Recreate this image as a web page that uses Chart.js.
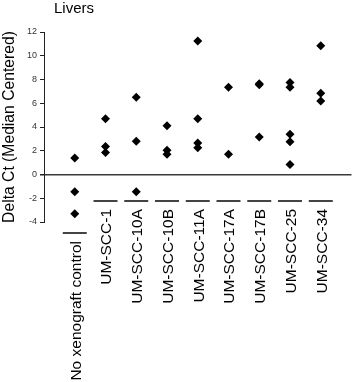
<!DOCTYPE html>
<html>
<head>
<meta charset="utf-8">
<script src="https://cdn.jsdelivr.net/npm/chart.js@4.4.1/dist/chart.umd.min.js"></script>
<style>
  html, body { margin: 0; padding: 0; background: #fff; }
</style>
</head>
<body>
<canvas id="chart" width="356" height="382"></canvas>
<script>
// data
const categories = ['No xenograft control', 'UM-SCC-1', 'UM-SCC-10A', 'UM-SCC-10B', 'UM-SCC-11A',
                    'UM-SCC-17A', 'UM-SCC-17B', 'UM-SCC-25', 'UM-SCC-34'];
const noXenograft = [1.4, -1.45, -3.3];
const umScc1   = [4.7, 2.35, 1.85];
const umScc10A = [6.5, 2.8, -1.45];
const umScc10B = [4.1, 2.05, 1.7];
const umScc11A = [11.25, 4.7, 2.65, 2.25];
const umScc17A = [7.35, 1.7];
const umScc17B = [7.65, 7.55, 3.15];
const umScc25  = [7.75, 7.35, 3.4, 2.75, 0.85];
const umScc34  = [10.85, 6.85, 6.2];
const yTicks = [-4, -2, 0, 2, 4, 6, 8, 10, 12];

const groups = [noXenograft, umScc1, umScc10A, umScc10B, umScc11A, umScc17A, umScc17B, umScc25, umScc34];
const points = [];
groups.forEach((vals, i) => vals.forEach(v => points.push({ x: i, y: v })));

const FONT = '"Liberation Sans", Arial, Helvetica, sans-serif';

// title top-left + the short bars and rotated names under each group
const extras = {
  id: 'extras',
  afterDraw(chart) {
    const { ctx, chartArea, scales: { x } } = chart;
    ctx.save();
    ctx.fillStyle = '#000';
    ctx.font = '15px ' + FONT;
    ctx.textAlign = 'left';
    ctx.textBaseline = 'alphabetic';
    ctx.fillText('Livers', chartArea.left + 10, 13);

    ctx.font = '15.5px ' + FONT;
    categories.forEach((name, i) => {
      const px = x.getPixelForValue(i);
      const barY = i === 0 ? chartArea.bottom + 11 : chartArea.bottom - 21;
      ctx.strokeStyle = '#444';
      ctx.lineWidth = 2;
      ctx.beginPath();
      ctx.moveTo(px - 12, barY);
      ctx.lineTo(px + 12, barY);
      ctx.stroke();

      ctx.save();
      ctx.translate(px + 1.5, barY + 8);
      ctx.rotate(-Math.PI / 2);
      ctx.textAlign = 'right';
      ctx.textBaseline = 'middle';
      ctx.fillText(name, 0, 0);
      ctx.restore();
    });
    ctx.restore();
  }
};

new Chart(document.getElementById('chart'), {
  type: 'scatter',
  data: {
    datasets: [{
      data: points,
      pointStyle: 'rectRot',
      pointRadius: 4.5,
      backgroundColor: '#000',
      borderColor: '#000',
      borderWidth: 0
    }]
  },
  options: {
    responsive: false,
    animation: false,
    clip: false,
    layout: { padding: { top: 32, bottom: 160, left: 0, right: 0 } },
    plugins: { legend: { display: false }, tooltip: { enabled: false } },
    scales: {
      x: { type: 'linear', min: -1, max: 9, display: false },
      y: {
        min: -4, max: 12,
        afterBuildTicks: s => { s.ticks = yTicks.map(v => ({ value: v })); },
        afterFit: s => { s.width = 44; },
        border: { color: '#222', width: 1 },
        grid: {
          color: c => c.tick && c.tick.value === 0 ? '#3a3a3a' : 'rgba(0,0,0,0)',
          lineWidth: c => c.tick && c.tick.value === 0 ? 1.5 : 1,
          tickColor: '#222',
          tickLength: 4
        },
        ticks: { font: { size: 9, family: FONT }, color: '#333', padding: 3 },
        title: { display: true, text: 'Delta Ct (Median Centered)', color: '#000',
                 font: { size: 15.7, family: FONT }, padding: 0 }
      }
    }
  },
  plugins: [extras]
});
</script>
</body>
</html>
